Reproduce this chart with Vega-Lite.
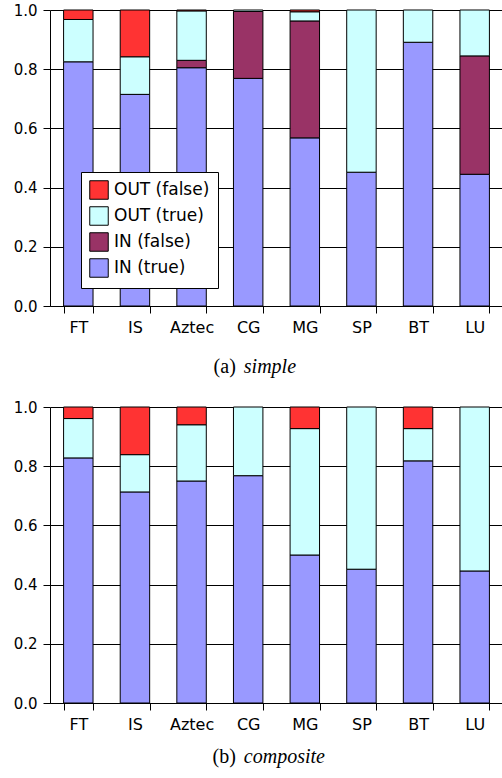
{
  "$schema": "https://vega.github.io/schema/vega-lite/v6.json",
  "padding": {"left": 13, "top": 3, "right": 0, "bottom": 0},
  "spacing": 23,
  "datasets": {
    "simple": [
      {"bench": "FT", "series": "IN (true)", "side": "IN", "ok": "true", "value": 0.825},
      {"bench": "FT", "series": "OUT (true)", "side": "OUT", "ok": "true", "value": 0.143},
      {"bench": "FT", "series": "OUT (false)", "side": "OUT", "ok": "false", "value": 0.032},
      {"bench": "IS", "series": "IN (true)", "side": "IN", "ok": "true", "value": 0.715},
      {"bench": "IS", "series": "OUT (true)", "side": "OUT", "ok": "true", "value": 0.127},
      {"bench": "IS", "series": "OUT (false)", "side": "OUT", "ok": "false", "value": 0.158},
      {"bench": "Aztec", "series": "IN (true)", "side": "IN", "ok": "true", "value": 0.805},
      {"bench": "Aztec", "series": "IN (false)", "side": "IN", "ok": "false", "value": 0.025},
      {"bench": "Aztec", "series": "OUT (true)", "side": "OUT", "ok": "true", "value": 0.167},
      {"bench": "Aztec", "series": "OUT (false)", "side": "OUT", "ok": "false", "value": 0.003},
      {"bench": "CG", "series": "IN (true)", "side": "IN", "ok": "true", "value": 0.769},
      {"bench": "CG", "series": "IN (false)", "side": "IN", "ok": "false", "value": 0.226},
      {"bench": "CG", "series": "OUT (true)", "side": "OUT", "ok": "true", "value": 0.005},
      {"bench": "MG", "series": "IN (true)", "side": "IN", "ok": "true", "value": 0.568},
      {"bench": "MG", "series": "IN (false)", "side": "IN", "ok": "false", "value": 0.395},
      {"bench": "MG", "series": "OUT (true)", "side": "OUT", "ok": "true", "value": 0.031},
      {"bench": "MG", "series": "OUT (false)", "side": "OUT", "ok": "false", "value": 0.006},
      {"bench": "SP", "series": "IN (true)", "side": "IN", "ok": "true", "value": 0.452},
      {"bench": "SP", "series": "OUT (true)", "side": "OUT", "ok": "true", "value": 0.548},
      {"bench": "BT", "series": "IN (true)", "side": "IN", "ok": "true", "value": 0.891},
      {"bench": "BT", "series": "OUT (true)", "side": "OUT", "ok": "true", "value": 0.109},
      {"bench": "LU", "series": "IN (true)", "side": "IN", "ok": "true", "value": 0.445},
      {"bench": "LU", "series": "IN (false)", "side": "IN", "ok": "false", "value": 0.400},
      {"bench": "LU", "series": "OUT (true)", "side": "OUT", "ok": "true", "value": 0.155}
    ],
    "composite": [
      {"bench": "FT", "series": "IN (true)", "side": "IN", "ok": "true", "value": 0.828},
      {"bench": "FT", "series": "OUT (true)", "side": "OUT", "ok": "true", "value": 0.133},
      {"bench": "FT", "series": "OUT (false)", "side": "OUT", "ok": "false", "value": 0.039},
      {"bench": "IS", "series": "IN (true)", "side": "IN", "ok": "true", "value": 0.713},
      {"bench": "IS", "series": "OUT (true)", "side": "OUT", "ok": "true", "value": 0.126},
      {"bench": "IS", "series": "OUT (false)", "side": "OUT", "ok": "false", "value": 0.161},
      {"bench": "Aztec", "series": "IN (true)", "side": "IN", "ok": "true", "value": 0.750},
      {"bench": "Aztec", "series": "OUT (true)", "side": "OUT", "ok": "true", "value": 0.190},
      {"bench": "Aztec", "series": "OUT (false)", "side": "OUT", "ok": "false", "value": 0.060},
      {"bench": "CG", "series": "IN (true)", "side": "IN", "ok": "true", "value": 0.768},
      {"bench": "CG", "series": "OUT (true)", "side": "OUT", "ok": "true", "value": 0.232},
      {"bench": "MG", "series": "IN (true)", "side": "IN", "ok": "true", "value": 0.500},
      {"bench": "MG", "series": "OUT (true)", "side": "OUT", "ok": "true", "value": 0.427},
      {"bench": "MG", "series": "OUT (false)", "side": "OUT", "ok": "false", "value": 0.073},
      {"bench": "SP", "series": "IN (true)", "side": "IN", "ok": "true", "value": 0.452},
      {"bench": "SP", "series": "OUT (true)", "side": "OUT", "ok": "true", "value": 0.548},
      {"bench": "BT", "series": "IN (true)", "side": "IN", "ok": "true", "value": 0.818},
      {"bench": "BT", "series": "OUT (true)", "side": "OUT", "ok": "true", "value": 0.109},
      {"bench": "BT", "series": "OUT (false)", "side": "OUT", "ok": "false", "value": 0.073},
      {"bench": "LU", "series": "IN (true)", "side": "IN", "ok": "true", "value": 0.446},
      {"bench": "LU", "series": "OUT (true)", "side": "OUT", "ok": "true", "value": 0.554}
    ]
  },
  "config": {
    "view": {"stroke": null},
    "font": "DejaVu Sans",
    "axis": {
      "domainColor": "black", "tickColor": "black", "gridColor": "black", "gridOpacity": 1,
      "labelColor": "black", "labelFont": "DejaVu Sans", "labelFontSize": 15,
      "tickSize": 7, "title": null, "domainWidth": 1, "tickWidth": 1, "gridWidth": 1
    },
    "legend": {
      "orient": "none", "legendX": 31, "legendY": 162, "title": null,
      "symbolType": "square", "symbolSize": 342, "symbolStrokeColor": "black", "symbolStrokeWidth": 1,
      "labelFont": "DejaVu Sans", "labelFontSize": 17, "labelColor": "black", "labelOffset": 5,
      "rowPadding": 2, "padding": 8, "strokeColor": "black", "fillColor": "white", "direction": "vertical"
    }
  },
  "vconcat": [
    {
      "width": 453, "height": 296,
      "layer": [
        {
          "data": {"name": "simple"},
          "transform": [
            {"stack": "value", "groupby": ["bench"], "sort": [{"field": "side", "order": "ascending"}, {"field": "ok", "order": "descending"}], "as": ["v0", "v1"]}
          ],
          "mark": {"type": "bar", "stroke": "black", "strokeWidth": 1},
          "encoding": {
            "x": {"field": "bench", "type": "nominal", "sort": ["FT", "IS", "Aztec", "CG", "MG", "SP", "BT", "LU"],
                  "scale": {"paddingInner": 0.48, "paddingOuter": 0.24},
                  "axis": {"labelAngle": 0, "tickBand": "extent", "labelFontSize": 16, "labelPadding": 6, "grid": false}},
            "y": {"field": "v0", "type": "quantitative", "scale": {"domain": [0, 1], "nice": false},
                  "axis": {"values": [0, 0.2, 0.4, 0.6, 0.8, 1], "format": ".1f", "grid": true, "labelPadding": 6}},
            "y2": {"field": "v1"},
            "color": {"field": "series", "type": "nominal",
                      "scale": {"domain": ["OUT (false)", "OUT (true)", "IN (false)", "IN (true)"], "range": ["#ff3333", "#ccffff", "#993366", "#9999ff"]}}
          }
        },
        {
          "data": {"values": [{"tag": "(a)", "name": "simple"}]},
          "layer": [
            {
              "mark": {"type": "text", "align": "right", "baseline": "alphabetic", "font": "Liberation Serif", "fontSize": 20, "dx": -4, "color": "black"},
              "encoding": {
                "x": {"datum": 0.419, "type": "quantitative", "scale": {"domain": [0, 1]}, "axis": null},
                "y": {"datum": -0.226, "type": "quantitative"},
                "text": {"field": "tag"}
              }
            },
            {
              "mark": {"type": "text", "align": "left", "baseline": "alphabetic", "font": "Liberation Serif", "fontSize": 20, "fontStyle": "italic", "dx": 4, "color": "black"},
              "encoding": {
                "x": {"datum": 0.419, "type": "quantitative", "scale": {"domain": [0, 1]}, "axis": null},
                "y": {"datum": -0.226, "type": "quantitative"},
                "text": {"field": "name"}
              }
            }
          ]
        }
      ],
      "resolve": {"scale": {"x": "independent"}}
    },
    {
      "width": 453, "height": 296,
      "layer": [
        {
          "data": {"name": "composite"},
          "transform": [
            {"stack": "value", "groupby": ["bench"], "sort": [{"field": "side", "order": "ascending"}, {"field": "ok", "order": "descending"}], "as": ["v0", "v1"]}
          ],
          "mark": {"type": "bar", "stroke": "black", "strokeWidth": 1},
          "encoding": {
            "x": {"field": "bench", "type": "nominal", "sort": ["FT", "IS", "Aztec", "CG", "MG", "SP", "BT", "LU"],
                  "scale": {"paddingInner": 0.48, "paddingOuter": 0.24},
                  "axis": {"labelAngle": 0, "tickBand": "extent", "labelFontSize": 16, "labelPadding": 6, "grid": false}},
            "y": {"field": "v0", "type": "quantitative", "scale": {"domain": [0, 1], "nice": false},
                  "axis": {"values": [0, 0.2, 0.4, 0.6, 0.8, 1], "format": ".1f", "grid": true, "labelPadding": 6}},
            "y2": {"field": "v1"},
            "color": {"field": "series", "type": "nominal",
                      "scale": {"domain": ["OUT (false)", "OUT (true)", "IN (false)", "IN (true)"], "range": ["#ff3333", "#ccffff", "#993366", "#9999ff"]}}
          }
        },
        {
          "data": {"values": [{"tag": "(b)", "name": "composite"}]},
          "layer": [
            {
              "mark": {"type": "text", "align": "right", "baseline": "alphabetic", "font": "Liberation Serif", "fontSize": 20, "dx": -4, "color": "black"},
              "encoding": {
                "x": {"datum": 0.419, "type": "quantitative", "scale": {"domain": [0, 1]}, "axis": null},
                "y": {"datum": -0.203, "type": "quantitative"},
                "text": {"field": "tag"}
              }
            },
            {
              "mark": {"type": "text", "align": "left", "baseline": "alphabetic", "font": "Liberation Serif", "fontSize": 20, "fontStyle": "italic", "dx": 4, "color": "black"},
              "encoding": {
                "x": {"datum": 0.419, "type": "quantitative", "scale": {"domain": [0, 1]}, "axis": null},
                "y": {"datum": -0.203, "type": "quantitative"},
                "text": {"field": "name"}
              }
            }
          ]
        }
      ],
      "resolve": {"scale": {"x": "independent"}}
    }
  ]
}
